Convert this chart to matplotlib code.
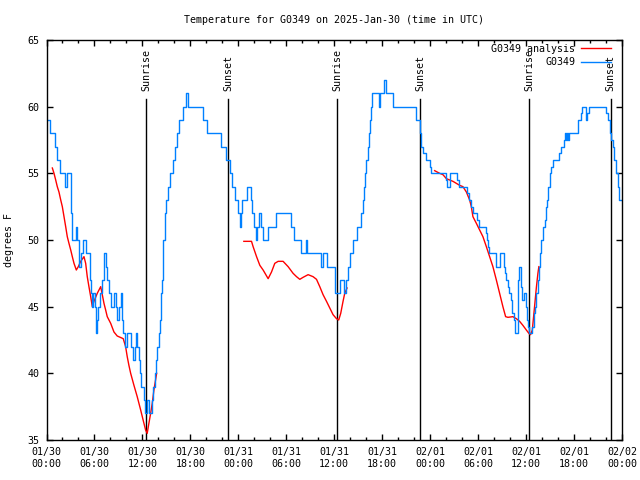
import matplotlib
matplotlib.use('Agg')
import matplotlib.pyplot as plt
import matplotlib.transforms as mtransforms
import numpy as np

# hours since 2025-01-30 00:00 UTC
obs_hours = [0.19, 0.44, 1.06, 1.31, 1.69, 2.31, 2.6, 3.03, 3.15, 3.65, 3.85, 4.06, 4.28, 4.6, 4.9,
             5.4, 5.53, 5.73, 5.85, 6.03, 6.15, 6.28, 6.44, 6.69, 6.98, 7.19, 7.4, 7.6, 7.81, 8.03,
             8.44, 8.65, 8.85, 9.06, 9.28, 9.44, 9.6, 9.78, 10.03, 10.6, 10.78, 11.03, 11.19, 11.35,
             11.53, 11.69, 11.85, 12.19, 12.35, 12.6, 12.85, 13.23, 13.35, 13.56, 13.73, 13.85, 14.03,
             14.15, 14.28, 14.35, 14.44, 14.53, 14.6, 14.78, 14.98, 15.19, 15.44, 15.78, 16.03, 16.28,
             16.56, 17.1, 17.44, 17.73, 19.6, 20.06, 21.78, 22.45, 22.94, 23.15, 23.56, 23.98, 24.19,
             24.31, 24.44, 25.03, 25.53, 25.65, 25.94, 26.19, 26.35, 26.6, 26.78, 27.1, 27.73, 28.69,
             30.65, 30.98, 31.78, 32.44, 32.6, 34.28, 34.6, 35.1, 36.06, 36.69, 37.22, 37.53, 37.75,
             38.0, 38.38, 38.81, 39.31, 39.6, 39.72, 39.88, 40.03, 40.19, 40.31, 40.48, 40.65, 40.78,
             41.6, 41.75, 42.25, 42.53, 43.35, 46.28, 46.69, 46.81, 47.1, 47.53, 47.94, 48.15, 49.94,
             50.1, 50.44, 51.4, 51.6, 52.65, 52.85, 53.15, 53.35, 53.85, 54.1, 54.94, 55.1, 55.23,
             55.35, 56.28, 56.78, 57.19, 57.31, 57.44, 57.73, 57.85, 58.15, 58.28, 58.44, 58.56, 58.98,
             59.1, 59.4, 59.53, 59.69, 59.94, 60.1, 60.23, 60.35, 60.78, 60.94, 61.06, 61.28, 61.48,
             61.6, 61.78, 61.9, 62.1, 62.31, 62.44, 62.6, 62.73, 62.94, 63.15, 63.35, 64.1, 64.4, 64.69,
             64.81, 64.94, 65.1, 65.23, 65.35, 66.44, 66.9, 67.03, 67.44, 67.6, 67.81, 69.94, 70.19,
             70.44, 70.65, 70.85, 71.06, 71.28, 71.44, 71.6, 71.88]
obs_temp = [59, 58, 57, 56, 55, 54, 55, 52, 50, 51, 50, 48, 49, 50, 49,
            47, 46, 45, 46, 45, 43, 44, 45, 46, 47, 49, 48, 47, 46, 45,
            46, 45, 44, 45, 46, 44, 43, 42, 43, 42, 41, 42, 43, 42,
            41, 40, 39, 38, 37, 38, 37, 38, 39, 40, 41, 42, 43,
            44, 45, 46, 47, 48, 50, 52, 53, 54, 55, 56, 57, 58,
            59, 60, 61, 60, 59, 58, 57, 56, 55, 54, 53, 52, 51,
            52, 53, 54, 53, 52, 51, 50, 51, 52, 51, 50, 51, 52,
            51, 50, 49, 50, 49, 48, 49, 48, 46, 47, 46, 47, 48,
            49, 50, 51, 52, 53, 54, 55, 56, 57, 58, 59, 60, 61,
            60, 61, 62, 61, 60, 59, 58, 57, 56.5, 56, 55.5, 55, 54.5,
            54, 55, 54.5, 54, 53.5, 53, 52.5, 52, 51.5, 51, 50.5, 50, 49.5,
            49, 48, 49, 48, 47.5, 47, 46.5, 46, 45.5, 44.5, 44, 43, 47,
            48, 46.5, 45.5, 46, 45, 44, 43.5, 43, 43.5, 44.5, 45, 46, 47,
            48, 49, 50, 51, 51.5, 52.5, 53, 54, 55, 55.5, 56, 56.5, 57, 57.5,
            58, 57.5, 58, 57.5, 58, 59, 59.5, 60, 59, 59.5, 60, 59.5, 59,
            58, 57.5, 57, 56, 55, 54, 53, 53]

ana1_hours = [0.73, 0.94, 1.15, 1.35, 1.56, 1.78, 1.98, 2.19, 2.4, 2.6, 2.81, 3.03, 3.23, 3.44,
              3.73, 3.98, 4.28, 4.69, 4.9, 5.1, 5.31, 5.53, 5.73, 5.94, 6.35, 6.78, 6.98, 7.19,
              7.4, 7.6, 8.03, 8.44, 8.85, 9.6, 9.9, 10.1, 10.31, 10.53, 10.94, 11.35, 11.78, 12.19,
              12.4, 12.6, 12.81, 13.03, 13.23, 13.44, 13.78]
ana1_temp = [55.4, 55, 54.5, 54, 53.6, 53, 52.5, 51.75, 51, 50.25, 49.75, 49.25, 48.75, 48.25,
             47.75, 48, 48.4, 48.75, 48.25, 47.25, 46.5, 45.75, 45, 45.4, 46, 46.5, 45.9, 45.25,
             44.75, 44.25, 43.75, 43.1, 42.8, 42.6, 42, 41.25, 40.6, 40, 39.1, 38.25, 37.25, 36.25,
             35.75, 35.5, 36.25, 37, 37.75, 38.75, 40]

ana2_hours = [24.69, 25.65, 25.85, 26.28, 26.69, 27.1, 27.73, 28.15, 28.56, 28.98, 29.6, 30.23,
              30.85, 31.28, 31.69, 32.1, 32.73, 33.35, 33.78, 34.19, 34.6, 35.03, 35.44, 35.85,
              36.28, 36.56, 36.81, 37.1, 37.31, 37.6]
ana2_temp = [49.9, 49.9, 49.5, 48.75, 48.1, 47.75, 47.1, 47.6, 48.25, 48.4, 48.4, 48,
             47.5, 47.25, 47.05, 47.2, 47.4, 47.25, 47.05, 46.5, 45.9, 45.4, 44.9, 44.4,
             44.1, 44, 44.5, 45.4, 46, 46.4]

ana3_hours = [48.56, 49.19, 49.6, 50.03, 50.85, 51.69, 52.1, 52.53, 52.94, 53.15, 53.35, 53.78,
              54.19, 54.6, 55.03, 55.44, 55.85, 56.28, 56.69, 57.1, 57.44, 57.73, 58.35, 58.78,
              59.19, 59.6, 60.03, 60.35, 60.56, 60.78, 60.94, 61.1, 61.28, 61.48, 61.6]
ana3_temp = [55.2, 55, 54.9, 54.6, 54.4, 54.1, 54, 53.6, 53, 52.5, 51.75, 51.25,
             50.75, 50.25, 49.5, 48.75, 48, 47, 46, 45, 44.25, 44.2, 44.25, 44.1,
             43.9, 43.6, 43.25, 43, 42.9, 43.25, 44.25, 45.25, 46.4, 47.5, 48]

sunrise_hours = [12.48, 36.35, 60.35]
sunset_hours = [22.73, 46.75, 70.6]

tick_hours = list(range(0, 73, 6))
tick_labels = ['01/30\n00:00', '01/30\n06:00', '01/30\n12:00', '01/30\n18:00',
               '01/31\n00:00', '01/31\n06:00', '01/31\n12:00', '01/31\n18:00',
               '02/01\n00:00', '02/01\n06:00', '02/01\n12:00', '02/01\n18:00',
               '02/02\n00:00']

plt.rcParams['font.family'] = ['DejaVu Sans Mono']
fs = 7.2

fig = plt.figure(figsize=(6.4, 4.8), dpi=100)
ax = fig.add_axes([46.5 / 640, 40 / 480, 575.5 / 640, 400 / 480])

blue = '#0080ff'
red = '#ff0000'

# sunrise / sunset markers
for h in sunrise_hours + sunset_hours:
    ax.axvline(h, ymin=0, ymax=0.853, color='black', lw=1.0)
trans = mtransforms.blended_transform_factory(ax.transData, ax.transAxes)
for h in sunrise_hours:
    ax.text(h, 0.872, 'Sunrise', rotation=90, ha='center', va='bottom',
            transform=trans, fontsize=fs)
for h in sunset_hours:
    ax.text(h, 0.872, 'Sunset', rotation=90, ha='center', va='bottom',
            transform=trans, fontsize=fs)

ax.plot(ana1_hours, ana1_temp, color=red, lw=1.0, label='G0349 analysis')
ax.plot(ana2_hours, ana2_temp, color=red, lw=1.0)
ax.plot(ana3_hours, ana3_temp, color=red, lw=1.0)
ax.plot(obs_hours, obs_temp, color=blue, lw=1.0, drawstyle='steps-post', label='G0349')

ax.set_xlim(0, 72)
ax.set_ylim(35, 65)
ax.set_xticks(tick_hours)
ax.set_xticklabels(tick_labels)
ax.set_xticks(np.arange(0, 73, 2), minor=True)
ax.set_yticks(np.arange(35, 66, 5))
ax.tick_params(which='both', direction='in', top=True, right=True, labelsize=fs, width=1.0)
ax.tick_params(which='major', length=4.5, pad=5)
ax.tick_params(which='minor', length=2.5)
for s in ax.spines.values():
    s.set_linewidth(1.0)

ax.set_ylabel('degrees F', fontsize=fs)
ax.yaxis.set_label_coords(-0.0565, 0.5)

fig.text(334 / 640, 1 - 20 / 480, 'Temperature for G0349 on 2025-Jan-30 (time in UTC)',
         ha='center', va='center', fontsize=fs)

ax.legend(loc='upper right', bbox_to_anchor=(0.981, 0.99), markerfirst=False,
          frameon=False, fontsize=fs, handlelength=3.0, handletextpad=0.6,
          borderpad=0, borderaxespad=0, labelspacing=0.35)

fig.savefig('out.png', dpi=100)
